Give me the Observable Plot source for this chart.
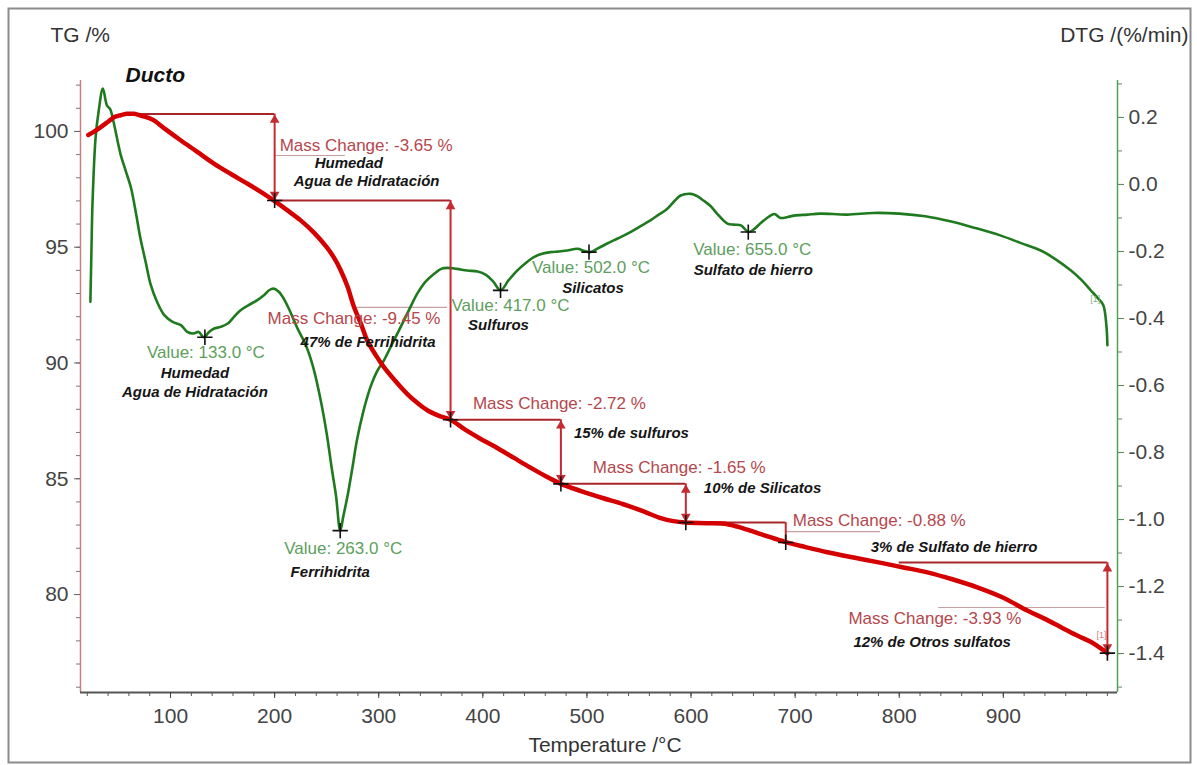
<!DOCTYPE html>
<html>
<head>
<meta charset="utf-8">
<script src="https://cdn.jsdelivr.net/npm/d3@7"></script>
<script src="https://cdn.jsdelivr.net/npm/@observablehq/plot@0.6"></script>
<style>
  html, body { margin: 0; padding: 0; background: #fff; }
  #chart svg { display: block; }
</style>
</head>
<body>
<div id="chart"></div>
<script>
// ---------------- DATA ----------------
// TG curve (mass %, left axis)
const tgTemp = [21,25,33,40,46,52,58,65,71,78,84,95,110,125,142,158,174,186,199,212,225,238,250,257,263,270,276,283,289,297,305,316,327,337,347,358,369,383,398,415,430,445,460,475,495,515,535,555,571,583,595,615,635,650,667,680,692,710,731,755,779,803,827,851,875,900,923,940,955,970,983,993,1000];
const tgMass = [99.85,99.95,100.19,100.42,100.62,100.70,100.76,100.76,100.69,100.60,100.48,100.10,99.61,99.14,98.60,98.16,97.74,97.41,97.02,96.60,96.16,95.62,95.00,94.55,94.05,93.30,92.45,91.68,90.97,90.35,89.82,89.22,88.68,88.28,87.95,87.72,87.55,87.12,86.72,86.30,85.90,85.50,85.12,84.78,84.46,84.17,83.90,83.58,83.30,83.17,83.11,83.08,83.04,82.86,82.61,82.42,82.25,82.05,81.83,81.61,81.40,81.18,80.96,80.66,80.31,79.86,79.31,78.95,78.60,78.25,77.98,77.70,77.47];

// DTG curve (%/min, right axis)
const dtgTemp = [23,24,25,28,31,35,39,42,45,52,57,62,67,71,76,81,87,94,102,110,116,122,127,132,137,142,148,155,161,167,175,183,190,195,199,204,209,215,222,230,237,244,250,255,259,263,266,270,275,279,285,292,298,305,313,321,329,337,345,353,360,366,375,385,395,403,410,417,425,433,441,449,457,465,473,481,491,497,503,511,519,529,539,550,561,569,577,584,590,600,606,612,619,625,635,641,648,655,660,667,673,680,686,693,699,712,724,750,775,800,825,849,873,897,917,936,951,965,975,984,991,996,999,1000];
const dtgRate = [-0.35,-0.20,-0.06,0.14,0.22,0.286,0.235,0.225,0.19,0.09,0.04,-0.01,-0.09,-0.16,-0.23,-0.30,-0.35,-0.39,-0.41,-0.42,-0.44,-0.445,-0.44,-0.456,-0.44,-0.43,-0.425,-0.415,-0.395,-0.376,-0.36,-0.346,-0.33,-0.315,-0.311,-0.32,-0.342,-0.38,-0.43,-0.48,-0.545,-0.64,-0.743,-0.85,-0.93,-1.033,-0.99,-0.93,-0.84,-0.764,-0.68,-0.605,-0.56,-0.525,-0.475,-0.426,-0.375,-0.326,-0.29,-0.267,-0.252,-0.249,-0.252,-0.257,-0.26,-0.27,-0.29,-0.316,-0.285,-0.257,-0.235,-0.217,-0.207,-0.202,-0.20,-0.197,-0.192,-0.198,-0.202,-0.19,-0.177,-0.162,-0.147,-0.127,-0.107,-0.09,-0.073,-0.05,-0.033,-0.028,-0.035,-0.048,-0.065,-0.087,-0.117,-0.12,-0.122,-0.142,-0.135,-0.115,-0.10,-0.088,-0.1,-0.097,-0.093,-0.09,-0.087,-0.09,-0.085,-0.087,-0.095,-0.11,-0.13,-0.152,-0.175,-0.197,-0.225,-0.257,-0.285,-0.316,-0.34,-0.36,-0.42,-0.48];

// Axis ticks
const xTicks = [100,200,300,400,500,600,700,800,900];
const tgTicks = [80,85,90,95,100];
const dtgTicks = [0.2,0.0,-0.2,-0.4,-0.6,-0.8,-1.0,-1.2,-1.4];

// DTG peak annotations
const peakTemp = [133,263,417,502,655];
const peakRate = [-0.456,-1.033,-0.316,-0.202,-0.142];
const peakNote = [["Humedad","Agua de Hidratación"],["Ferrihidrita"],["Sulfuros"],["Silicatos"],["Sulfato de hierro"]];

// TG mass-change steps
const stepFrom   = [60,200,369,475,595,800];
const stepTemp   = [200,369,475,595,691,1000];
const stepStart  = [100.75,97.02,87.55,84.78,83.11,81.38];
const stepEnd    = [97.02,87.55,84.78,83.11,82.25,77.47];
const stepChange = [-3.65,-9.45,-2.72,-1.65,-0.88,-3.93];
const stepNote   = [["Humedad","Agua de Hidratación"],["47% de Ferrihidrita"],["15% de sulfuros"],["10% de Silicatos"],["3% de Sulfato de hierro"],["12% de Otros sulfatos"]];
// label guide lines under some mass-change labels (temperature from/to, TG level)
const guideFrom  = [201,279,691,838];
const guideTo    = [268,366,782,998];
const guideLevel = [98.96,92.40,82.72,79.44];

// ---------------- LAYOUT (pixel offsets of annotation text) ----------------
const peakValueOffset = [[1,15],[3,18],[10,15],[2,15],[4,18]];
const peakNoteOffset  = [[[-10,36],[-10,55]],[[-10,42]],[[-2,35]],[[4,36]],[[5,38]]];
const stepLabelOffset = [[5,31],[-183,118],[-88,-16],[-93,-16],[7,-2],[-259,56]];
const stepNoteOffset  = [[[40,49],[19,67]],[[-150,142]],[[13,13]],[[18,4]],[[85,25]],[[-254,80]]];

// ---------------- BUILD ----------------
const xDomain = [13.5, 1009.7];
const yDomain = [75.77, 102.2];
// map DTG (%/min) onto the TG axis position used for drawing (right axis)
const toTG = v => 97.7106 + 14.471 * v;
const fromTG = t => (t - 97.7106) / 14.471;

const tg = tgTemp.map((T, i) => ({T, m: tgMass[i]}));
const dtg = dtgTemp.map((T, i) => ({T, v: dtgRate[i]}));
const peaks = peakTemp.map((T, i) => ({T, v: peakRate[i], y: toTG(peakRate[i])}));
const steps = stepTemp.map((T, i) => ({T, from: stepFrom[i], start: stepStart[i], end: stepEnd[i], change: stepChange[i]}));
const guides = guideFrom.map((a, i) => ({a, b: guideTo[i], y: guideLevel[i]}));

const FONT = "Arial, 'Liberation Sans', Helvetica, sans-serif";
const bracketColor = "#a8262b";
const arrowColor = "#c42a2f";
const massTextColor = "#b5474d";
const valueTextColor = "#5e9e5e";

const marks = [];

// outer frame
marks.push(Plot.frame({stroke: "#8c8c8c", strokeWidth: 2, insetLeft: -72, insetTop: -72, insetRight: -73, insetBottom: -70}));

// axis lines
marks.push(Plot.ruleX([xDomain[0]], {stroke: "#c98080", strokeWidth: 1.5}));
marks.push(Plot.ruleX([xDomain[1]], {stroke: "#55a055", strokeWidth: 1.5}));
marks.push(Plot.ruleY([yDomain[0]], {stroke: "#555", strokeWidth: 2}));

// left axis (TG)
marks.push(Plot.axisY(d3.range(76, 103), {anchor: "left", tickSize: 4, stroke: "#777", fill: "none", label: null}));
marks.push(Plot.axisY(tgTicks, {anchor: "left", tickSize: 6, tickPadding: 6, fontSize: 21, fill: "#444", stroke: "#666", label: null}));

// right axis (DTG)
marks.push(Plot.axisY(d3.range(-15, 4).map(k => toTG(k / 10)), {anchor: "right", tickSize: 4, stroke: "#5a8a5a", fill: "none", label: null}));
marks.push(Plot.axisY(dtgTicks.map(toTG), {
  anchor: "right", tickSize: 6, tickPadding: 5, fontSize: 21, fill: "#444", stroke: "#5a8a5a", label: null,
  tickFormat: d => { const v = Math.round(fromTG(d) * 10) / 10; return (v === 0 ? 0 : v).toFixed(1); }
}));

// bottom axis (Temperature)
marks.push(Plot.axisX(d3.range(20, 1001, 20), {tickSize: 4, stroke: "#555", fill: "none", label: null}));
marks.push(Plot.axisX(xTicks, {tickSize: 6, tickPadding: 10, fontSize: 21, fill: "#444", stroke: "#444", label: null}));

// titles
marks.push(Plot.text(["TG /%"], {frameAnchor: "top-left", lineAnchor: "middle", textAnchor: "start", dx: -30, dy: -45, fontSize: 21, fill: "#333"}));
marks.push(Plot.text(["DTG /(%/min)"], {frameAnchor: "top-right", lineAnchor: "middle", textAnchor: "end", dx: 71, dy: -45, fontSize: 21, fill: "#333"}));
marks.push(Plot.text(["Ducto"], {frameAnchor: "top-left", lineAnchor: "middle", textAnchor: "start", dx: 45, dy: -5, fontSize: 21, fontWeight: "bold", fontStyle: "italic", fill: "#111"}));
marks.push(Plot.text(["Temperature /°C"], {frameAnchor: "bottom", lineAnchor: "middle", dx: 6, dy: 53, fontSize: 21, fill: "#333"}));

// mass-change brackets
marks.push(Plot.ruleY(guides, {y: "y", x1: "a", x2: "b", stroke: "#c9a0a0", strokeWidth: 1.2}));
marks.push(Plot.ruleY(steps, {y: "start", x1: "from", x2: "T", stroke: bracketColor, strokeWidth: 2}));

// DTG curve
marks.push(Plot.line(dtg, {x: "T", y: d => toTG(d.v), stroke: "#1f7a1f", strokeWidth: 2.6, curve: "catmull-rom"}));
// TG curve
marks.push(Plot.line(tg, {x: "T", y: "m", stroke: "#d40000", strokeWidth: 4.5, curve: "catmull-rom"}));

// vertical arrows
marks.push(Plot.ruleX(steps, {x: "T", y1: "start", y2: "end", stroke: arrowColor, strokeWidth: 2}));
const bigSteps = steps.filter(s => s.start - s.end > 1);
marks.push(Plot.dot(bigSteps, {x: "T", y: "start", symbol: "triangle", r: 3.6, fill: arrowColor, stroke: "none", dy: 6}));
marks.push(Plot.dot(bigSteps, {x: "T", y: "end", symbol: "triangle", r: 3.6, fill: arrowColor, stroke: "none", rotate: 180, dy: -6}));

// markers
marks.push(Plot.dot(steps, {x: "T", y: "end", symbol: "plus", r: 5, stroke: "#111", strokeWidth: 1.6}));
marks.push(Plot.dot(peaks, {x: "T", y: "y", symbol: "plus", r: 5, stroke: "#111", strokeWidth: 1.6}));

// DTG peak labels
peaks.forEach((p, i) => {
  marks.push(Plot.text([p], {x: "T", y: "y", text: d => `Value: ${d.T.toFixed(1)} °C`, dx: peakValueOffset[i][0], dy: peakValueOffset[i][1], fontSize: 17, fill: valueTextColor}));
  peakNote[i].forEach((line, j) => {
    marks.push(Plot.text([p], {x: "T", y: "y", text: () => line, dx: peakNoteOffset[i][j][0], dy: peakNoteOffset[i][j][1], fontSize: 15, fontWeight: "bold", fontStyle: "italic", fill: "#151515"}));
  });
});

// mass-change labels
steps.forEach((s, i) => {
  marks.push(Plot.text([s], {x: "T", y: "start", text: d => `Mass Change: ${d.change.toFixed(2)} %`, textAnchor: "start", dx: stepLabelOffset[i][0], dy: stepLabelOffset[i][1], fontSize: 17, fill: massTextColor}));
  stepNote[i].forEach((line, j) => {
    marks.push(Plot.text([s], {x: "T", y: "start", text: () => line, textAnchor: "start", dx: stepNoteOffset[i][j][0], dy: stepNoteOffset[i][j][1], fontSize: 15, fontWeight: "bold", fontStyle: "italic", fill: "#151515"}));
  });
});

// small "[1]" curve tags at the end of each curve
marks.push(Plot.text([tg[tg.length - 1]], {x: "T", y: "m", text: () => "[1]", dx: -6, dy: -18, fontSize: 9, fill: "#d08080"}));
marks.push(Plot.text([dtg[dtg.length - 3]], {x: "T", y: d => toTG(d.v), text: () => "[1]", dx: -8, dy: -6, fontSize: 9, fill: "#80b080"}));

const chart = Plot.plot({
  width: 1197,
  height: 765,
  marginTop: 80,
  marginBottom: 73,
  marginLeft: 80,
  marginRight: 80,
  x: {domain: xDomain},
  y: {domain: yDomain},
  style: {fontFamily: FONT, background: "#fff", overflow: "visible"},
  marks
});
document.getElementById("chart").appendChild(chart);
</script>
</body>
</html>
